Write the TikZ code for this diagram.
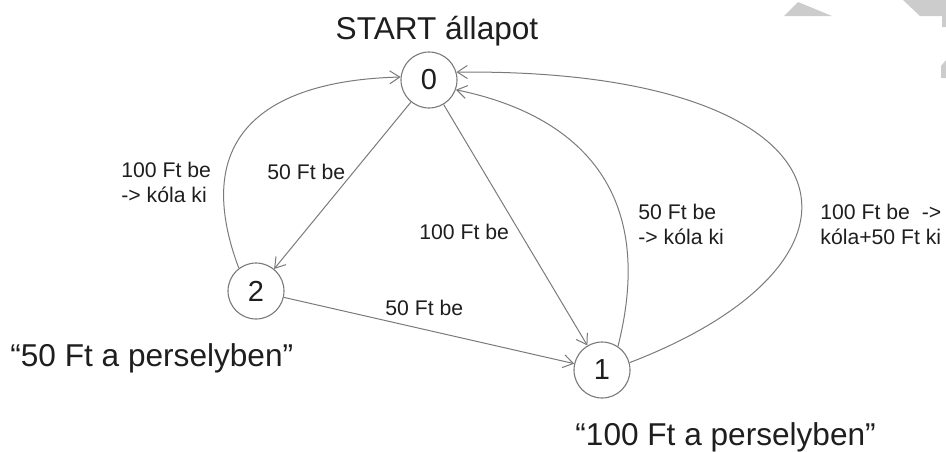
\documentclass[tikz,border=0pt]{standalone}
\usepackage{fontspec}
\setmainfont{Liberation Sans}
\usetikzlibrary{arrows.meta}
\definecolor{linegrey}{HTML}{7A7A7A}
\definecolor{textc}{HTML}{1E1E1E}
\definecolor{decogrey}{HTML}{CCCCCC}
\begin{document}
\begin{tikzpicture}[x=0.5pt,y=-0.5pt,
  state/.style={circle, draw=linegrey, line width=0.55pt, fill=white,
    minimum size=28pt, inner sep=0pt, text=textc,
    font=\fontsize{14.5}{16}\selectfont},
  bigtext/.style={inner sep=0pt, text=textc, font=\fontsize{15.8}{18}\selectfont},
  smalltext/.style={inner sep=0pt, text=textc, align=left,
    font=\fontsize{10.6}{12.5}\selectfont},
  trans/.style={draw=linegrey, line width=0.5pt,
    -{Straight Barb[length=5pt,width=6.5pt]}}]
  \useasboundingbox (0,0) rectangle (946,451);

  % corner ornaments
  \fill[decogrey] (784,16) -- (798,2) -- (832,16) -- cycle;
  \fill[decogrey] (903,0) -- (920,16) -- (942,16) -- (942,27) -- (946,27) -- (946,0) -- cycle;
  \fill[decogrey] (941,66) -- (946,60) -- (946,78) -- (941,78) -- cycle;

  % states
  \node[state] (n0) at (429,80) {0};
  \node[state] (n2) at (256,291) {2};
  \node[state] (n1) at (602,370) {1};

  % state captions
  \node[bigtext, anchor=base] (cap0) at (437,39) {START állapot};
  \node[bigtext, anchor=base west] (cap2) at (10,366) {“50 Ft a perselyben”};
  \node[bigtext, anchor=base west] (cap1) at (575,445) {“100 Ft a perselyben”};

  % transitions
  \draw[trans] (n0) -- (n2);
  \draw[trans] (n0) -- (n1);
  \draw[trans] (n2) -- (n1);
  \draw[trans] (n2.127) .. controls (185.5,126) and (280,80) .. (n0.174);
  \draw[trans] (n1.56) .. controls (662,172) and (555,110) .. (n0.340);
  \draw[trans] (n1.15) .. controls (902,258) and (856,68) .. (n0.16);

  % transition labels
  \node[smalltext, anchor=north west] (l20) at (121,162) {100 Ft be\\-> kóla ki};
  \node[smalltext, anchor=base west] (l02) at (267,179) {50 Ft be};
  \node[smalltext, anchor=base west] (l01) at (419,239) {100 Ft be};
  \node[smalltext, anchor=base west] (l21) at (385,315) {50 Ft be};
  \node[smalltext, anchor=north west] (l10a) at (638,204) {50 Ft be\\-> kóla ki};
  \node[smalltext, anchor=north west] (l10b) at (820,204) {100 Ft be\ \ ->\\kóla+50 Ft ki};
\end{tikzpicture}
\end{document}
